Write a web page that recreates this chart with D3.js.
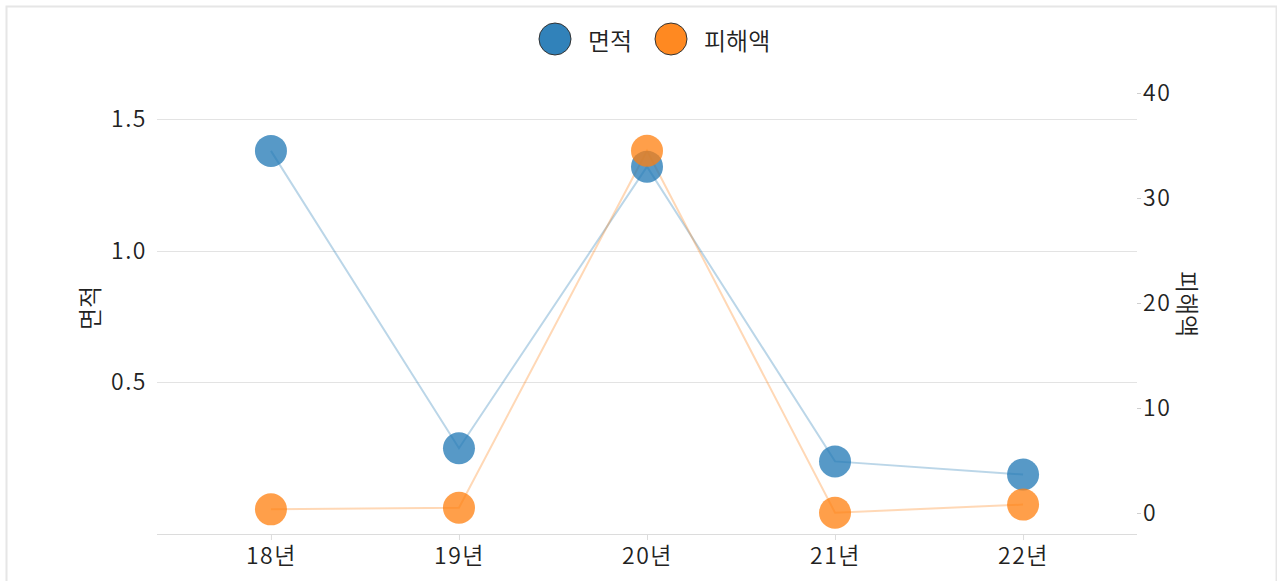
<!DOCTYPE html>
<html>
<head>
<meta charset="utf-8">
<script src="https://cdn.jsdelivr.net/npm/d3@7"></script>
<style>
  html, body { margin: 0; padding: 0; background: #fff; }
  svg { display: block; font-family: "Noto Sans CJK KR", "Noto Sans", sans-serif; }
  .lbl { font-family: "Noto Sans CJK KR", sans-serif; font-weight: 350; fill: #222; }
  .num { letter-spacing: 1.5px; }
</style>
</head>
<body>
<svg id="chart" width="1277" height="581"></svg>
<script>
// Years, area (left axis) and damage amount (right axis)
const years = ["18년", "19년", "20년", "21년", "22년"];
const areaValues = [1.38, 0.25, 1.32, 0.20, 0.15];
const damageValues = [0.35, 0.5, 34.5, 0.03, 0.8];
const areaTicks = [0.5, 1.0, 1.5];
const damageTicks = [0, 10, 20, 30, 40];
const seriesNames = ["면적", "피해액"];
const seriesColors = ["#1f77b4", "#ff7f0e"];

const svg = d3.select("#chart");

// outer frame
svg.append("rect")
  .attr("x", 6.5).attr("y", 6.5)
  .attr("width", 1270).attr("height", 600)
  .attr("fill", "none").attr("stroke", "#e6e6e6").attr("stroke-width", 2);

const plotLeft = 157, plotRight = 1137, plotTop = 93, plotBottom = 534;

const x = d3.scalePoint().domain(years).range([plotLeft, plotRight]).padding(0.606);
const yArea = d3.scaleLinear().domain([-0.076, 1.6]).range([plotBottom, plotTop]);
const yDamage = d3.scaleLinear().domain([-2.0, 40]).range([plotBottom, plotTop]);

// horizontal grid from the area axis
svg.append("g").selectAll("line").data(areaTicks).join("line")
  .attr("x1", plotLeft).attr("x2", plotRight)
  .attr("y1", d => Math.round(yArea(d)) + 0.5).attr("y2", d => Math.round(yArea(d)) + 0.5)
  .attr("stroke", "#e3e3e3").attr("stroke-width", 1);

// bottom axis
const xAxis = svg.append("g").attr("transform", `translate(0,${plotBottom})`)
  .call(d3.axisBottom(x).tickSize(6).tickPadding(8));
xAxis.select(".domain").attr("stroke", "#dcdcdc").attr("d", `M${plotLeft},0.5H${plotRight}`);
xAxis.selectAll(".tick line").attr("stroke", "#dcdcdc");
xAxis.selectAll(".tick text").attr("class", "lbl num").attr("font-size", 23);

// left axis labels
const yAxisL = svg.append("g").attr("transform", `translate(${plotLeft},0)`)
  .call(d3.axisLeft(yArea).tickValues(areaTicks).tickFormat(d3.format(".1f")).tickSize(0).tickPadding(10));
yAxisL.select(".domain").remove();
yAxisL.selectAll(".tick text").attr("class", "lbl num").attr("font-size", 23);

// right axis labels
const yAxisR = svg.append("g").attr("transform", `translate(${plotRight},0)`)
  .call(d3.axisRight(yDamage).tickValues(damageTicks).tickSize(4).tickPadding(2));
yAxisR.select(".domain").remove();
yAxisR.selectAll(".tick line").attr("stroke", "#cfcfcf");
yAxisR.selectAll(".tick text").attr("class", "lbl num").attr("font-size", 23);

// axis titles
svg.append("text").attr("class", "lbl")
  .attr("transform", "translate(88,308) rotate(-90)")
  .attr("text-anchor", "middle").attr("dominant-baseline", "central")
  .attr("font-size", 24).text(seriesNames[0]);
svg.append("text").attr("class", "lbl")
  .attr("transform", "translate(1188,304) rotate(90)")
  .attr("text-anchor", "middle").attr("dominant-baseline", "central")
  .attr("font-size", 24).text(seriesNames[1]);

// series
const series = [
  { values: areaValues, y: yArea, color: seriesColors[0] },
  { values: damageValues, y: yDamage, color: seriesColors[1] }
];

series.forEach(s => {
  const pts = years.map((yr, i) => [x(yr), s.y(s.values[i])]);
  svg.append("path")
    .attr("d", d3.line()(pts))
    .attr("fill", "none").attr("stroke", s.color)
    .attr("stroke-opacity", 0.3).attr("stroke-width", 2);
});

series.forEach(s => {
  svg.append("g").selectAll("circle").data(s.values).join("circle")
    .attr("cx", (d, i) => x(years[i]))
    .attr("cy", d => s.y(d))
    .attr("r", 16)
    .attr("fill", s.color).attr("fill-opacity", 0.75);
});

// legend
const legend = svg.append("g");
const legendX = [555, 671];
seriesNames.forEach((name, i) => {
  legend.append("circle")
    .attr("cx", legendX[i]).attr("cy", 39).attr("r", 16)
    .attr("fill", seriesColors[i]).attr("fill-opacity", 0.92)
    .attr("stroke", "#333").attr("stroke-width", 1);
  legend.append("text").attr("class", "lbl")
    .attr("x", legendX[i] + 33).attr("y", 39)
    .attr("dominant-baseline", "central")
    .attr("font-size", 24).text(name);
});
</script>
</body>
</html>
